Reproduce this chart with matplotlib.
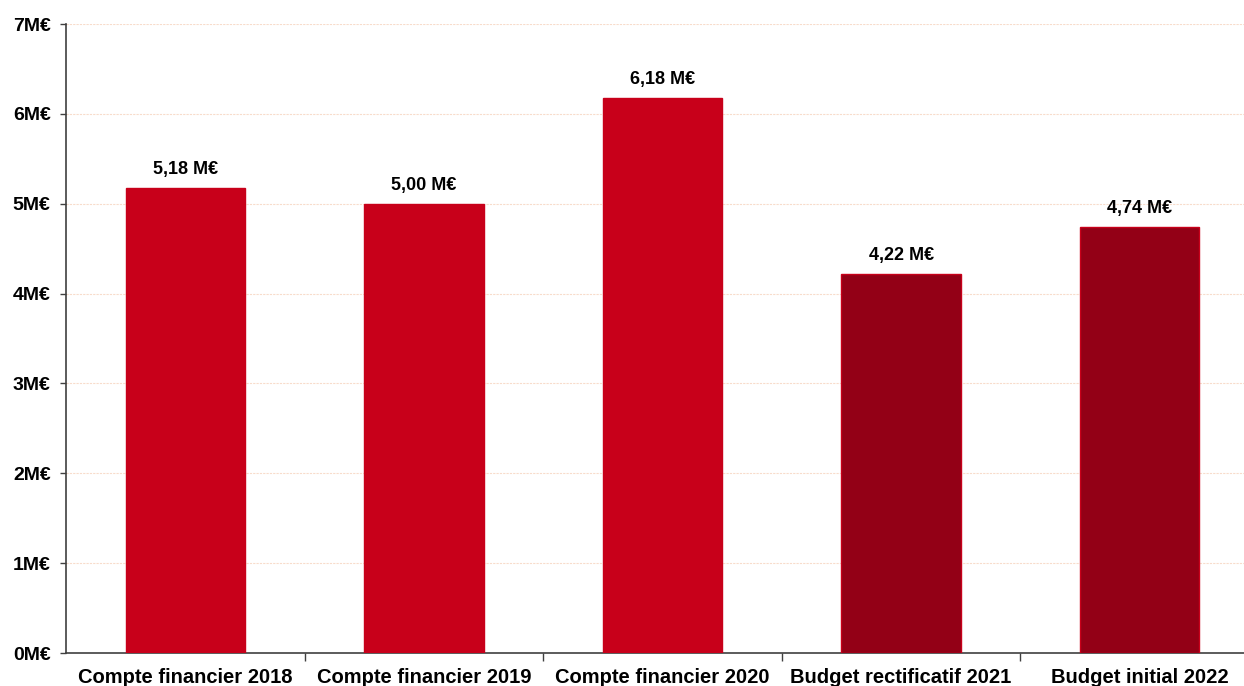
import numpy as np
import matplotlib.pyplot as plt

categories = ['Compte financier 2018', 'Compte financier 2019', 'Compte financier 2020',
              'Budget rectificatif 2021', 'Budget initial 2022']
values = [5.18, 5.00, 6.18, 4.22, 4.74]
labels = ['5,18 M€', '5,00 M€', '6,18 M€', '4,22 M€', '4,74 M€']
colors = ['#C8001A', '#C8001A', '#C8001A', '#930016', '#930016']
yticks = [0, 1, 2, 3, 4, 5, 6, 7]

plt.rcParams['font.family'] = ['Liberation Sans', 'DejaVu Sans']
plt.rcParams['font.weight'] = 'bold'

fig = plt.figure(figsize=(12.44, 6.86), dpi=100)
ax = fig.add_axes([66 / 1244, 1 - 653 / 686, (1259 - 66) / 1244, (653 - 24) / 686])

x = np.arange(len(categories)) + 0.5
ax.bar(x, values, width=0.5, color=colors, edgecolor='#C8001A', linewidth=1, zorder=3)

for xi, v, lab in zip(x, values, labels):
    ax.annotate(lab, (xi, v), xytext=(0, 7), textcoords='offset points',
                ha='center', va='bottom', fontsize=13, fontweight='bold')

ax.set_xlim(0, len(categories))
ax.set_ylim(0, 7)
ax.set_yticks(yticks)
ax.set_yticklabels([f'{t}M€' for t in yticks], fontsize=14, fontweight='bold')
ax.set_xticks(x)
ax.set_xticklabels(categories, fontsize=14.5, fontweight='bold')
ax.set_xticks(np.arange(1, len(categories) + 1), minor=True)
ax.tick_params(axis='x', which='major', length=0, pad=11)
ax.tick_params(axis='x', which='minor', length=6, width=1, color='#404040')
ax.tick_params(axis='y', length=4, width=1, color='#404040', pad=7)

ax.grid(axis='y', color='#F8DCCB', linewidth=0.8, linestyle=(0, (2, 1)), zorder=0)
for s in ['top', 'right']:
    ax.spines[s].set_visible(False)
for s in ['left', 'bottom']:
    ax.spines[s].set_color('#404040')
    ax.spines[s].set_linewidth(1.2)

fig.savefig('out.png', dpi=100)
